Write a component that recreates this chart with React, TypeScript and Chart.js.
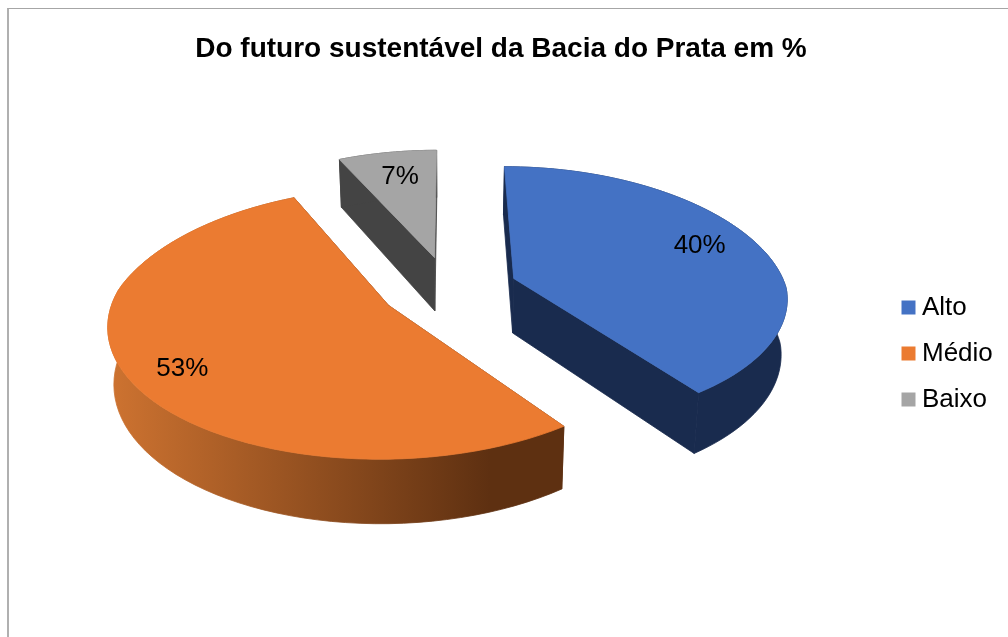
import React, { useEffect, useRef } from "react";
import { Chart, registerables } from "chart.js";

Chart.register(...registerables);

const categories = ["Alto", "Médio", "Baixo"];
const shares = [40, 53, 7];
const topColors = ["#4472C4", "#EB7B31", "#A5A5A5"];
const wallColors = ["#192B4E", "#EB7B31", "#444444"];
const titleText = "Do futuro sustentável da Bacia do Prata em %";

const FONT = '"Liberation Sans", Arial, sans-serif';

// Tilted view of the pie's ground plane
const VIEW = { cx: 449, cy: 288.5, tilt: 0.473, persp: 0.00048, backPersp: 1.3, depth: 55, shrink: 0.018 };

// Where each percentage sits on its slice: share of the radius, and a turn in degrees
const LABEL_PLACEMENT = [
  { reach: 0.78, turn: -2 },
  { reach: 0.82, turn: -2.5 },
  { reach: 0.75, turn: 0.7 },
];

function project(X: number, Y: number, h: number) {
  const s = 1 / (1 - VIEW.persp * Y);
  const sx = Y < 0 ? 1 / (1 - VIEW.persp * VIEW.backPersp * Y) : s;
  const x = VIEW.cx + X * sx * (1 - VIEW.shrink * h);
  const y = VIEW.cy + VIEW.tilt * Y * s + VIEW.depth * s * h;
  return { x, y };
}

type Pt = { x: number; y: number };

// The thin stroke in the fill colour closes hairline seams between neighbouring faces
function fillPoly(ctx: CanvasRenderingContext2D, pts: Pt[], fill: string | CanvasGradient) {
  ctx.beginPath();
  pts.forEach((p, i) => (i ? ctx.lineTo(p.x, p.y) : ctx.moveTo(p.x, p.y)));
  ctx.closePath();
  ctx.fillStyle = fill;
  ctx.fill();
  ctx.strokeStyle = fill;
  ctx.lineWidth = 0.8;
  ctx.stroke();
}

// Draws the arcs as exploded 3D wedges: cut faces, rim wall, then the top face.
const wedgePlugin = {
  id: "wedges",
  afterLayout(chart: any) {
    const legend = chart.legend;
    legend.left = 888;
    legend.top += 35;
    legend.bottom += 35;
  },
  beforeDatasetDraw(chart: any, args: any) {
    const { ctx } = chart;
    const meta = chart.getDatasetMeta(args.index);
    const order = meta.data
      .map((arc: any, i: number) => ({ arc, i, mid: (arc.startAngle + arc.endAngle) / 2 }))
      .sort((a: any, b: any) => Math.sin(a.mid) - Math.sin(b.mid));

    const rimGradient = ctx.createLinearGradient(115, 0, 490, 0);
    rimGradient.addColorStop(0, "#CC7230");
    rimGradient.addColorStop(1, "#5E3011");

    ctx.save();
    for (const { arc, i, mid } of order) {
      const R = arc.outerRadius;
      const off = arc.options.offset;
      const ox = Math.cos(mid) * off;
      const oy = Math.sin(mid) * off;
      const steps = 72;
      const rim = (h: number) => {
        const out: Pt[] = [];
        for (let k = 0; k <= steps; k++) {
          const a = arc.startAngle + ((arc.endAngle - arc.startAngle) * k) / steps;
          out.push(project(ox + R * Math.cos(a), oy + R * Math.sin(a), h));
        }
        return out;
      };
      const topRim = rim(0);
      const lowRim = rim(1);
      const apexTop = project(ox, oy, 0);
      const apexLow = project(ox, oy, 1);
      const wall = i === 1 ? rimGradient : wallColors[i];
      const cutColor = i === 1 ? "#5E3011" : wallColors[i];

      fillPoly(ctx, [apexTop, topRim[0], lowRim[0], apexLow], cutColor);
      fillPoly(ctx, [apexTop, topRim[steps], lowRim[steps], apexLow], cutColor);
      fillPoly(ctx, [...topRim, ...lowRim.slice().reverse()], wall);
      fillPoly(ctx, [apexTop, ...topRim], topColors[i]);
    }

    ctx.fillStyle = "#000000";
    ctx.font = `26px ${FONT}`;
    ctx.textAlign = "center";
    ctx.textBaseline = "middle";
    for (const { arc, i, mid } of order) {
      const off = arc.options.offset;
      const { reach, turn } = LABEL_PLACEMENT[i];
      const a = mid + (turn * Math.PI) / 180;
      const ox = Math.cos(mid) * off;
      const oy = Math.sin(mid) * off;
      const r = arc.outerRadius * reach;
      const p = project(ox + Math.cos(a) * r, oy + Math.sin(a) * r, 0);
      ctx.fillText(`${shares[i]}%`, p.x, p.y);
    }
    ctx.restore();
    return false;
  },
};

export default function App() {
  const ref = useRef<HTMLCanvasElement>(null);

  useEffect(() => {
    const chart = new Chart(ref.current!, {
      type: "pie",
      data: {
        labels: categories,
        datasets: [
          {
            data: shares,
            backgroundColor: topColors,
            borderWidth: 0,
            offset: 69,
            radius: 272.5,
          } as any,
        ],
      },
      options: {
        responsive: false,
        animation: false,
        events: [],
        rotation: 0,
        layout: { padding: { left: 0, right: 6, top: 0, bottom: 0 } },
        plugins: {
          tooltip: { enabled: false },
          title: {
            display: true,
            text: titleText,
            color: "#000000",
            font: { family: FONT, size: 28, weight: "bold" },
            padding: { top: 32, bottom: 10 },
          },
          legend: {
            position: "right",
            labels: {
              color: "#000000",
              font: { family: FONT, size: 26 },
              usePointStyle: true,
              pointStyle: "rect",
              boxWidth: 1,
              boxHeight: 14,
              padding: 20,
            },
          },
        },
      },
      plugins: [wedgePlugin],
    } as any);
    return () => chart.destroy();
  }, []);

  return (
    <div style={{ position: "fixed", inset: 0, overflow: "hidden", background: "#ffffff" }}>
      <canvas ref={ref} width={1008} height={637} style={{ display: "block" }} />
      <div
        style={{
          position: "absolute",
          left: 7,
          top: 8,
          right: 0,
          bottom: 0,
          borderLeft: "2px solid #b0b0b0",
          borderTop: "1px solid #a6a6a6",
        }}
      />
    </div>
  );
}
